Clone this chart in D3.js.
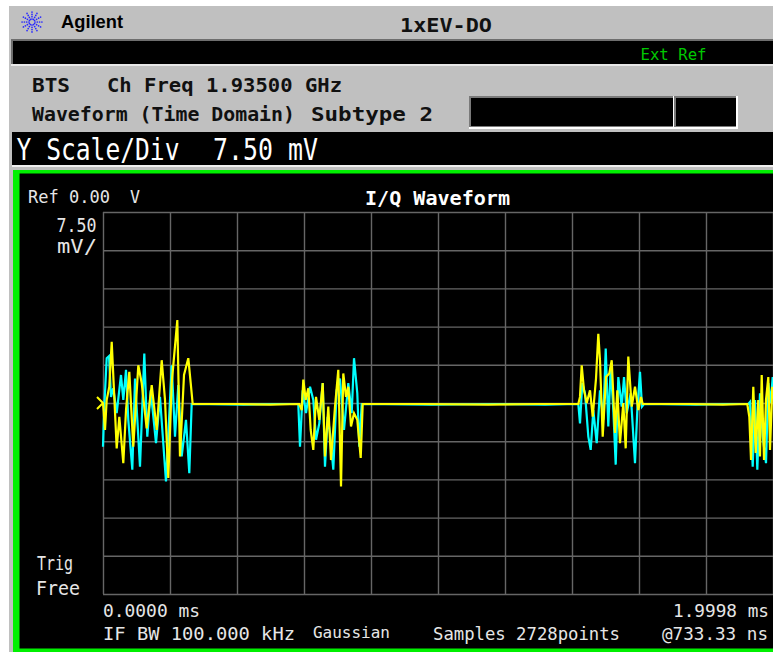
<!DOCTYPE html>
<html><head><meta charset="utf-8">
<script src="https://cdn.jsdelivr.net/npm/d3@7"></script>
<style>html,body{margin:0;padding:0;background:#fff;}svg{display:block;}</style>
</head><body>
<script>
// ---- data (time in ms, amplitude in mV) ----
const iTime = [0,0.006,0.011,0.0188,0.026,0.0328,0.0409,0.0487,0.0606,0.0687,0.0785,0.0904,0.1054,0.1155,0.1304,0.1454,0.1603,0.1752,0.1851,0.1949,0.2051,0.2218,0.2298,0.2418,0.2546,0.2618,0.2677,
  0.40,0.50,
  0.5859,0.5931,0.5979,0.6050,0.6128,0.6199,0.6277,0.6358,0.6456,0.6558,0.6626,0.6725,0.6805,0.6925,0.7023,0.7104,0.7172,0.7253,0.7322,0.7402,0.7492,0.7590,0.7692,0.7752,
  0.95,1.15,1.30,
  1.4187,1.4237,1.4288,1.4357,1.4438,1.4536,1.4617,1.4715,1.4784,1.4834,1.4915,1.5014,1.5112,1.5184,1.5282,1.5351,1.5431,1.5530,1.5601,1.5679,1.5781,1.5879,1.5978,1.6058,1.6109,
  1.75,1.85,
  1.9231,1.9291,1.9342,1.9410,1.9482,1.9559,1.9610,1.9661,1.9730,1.9789,1.9858,1.9909,1.9977];
const iValue = [0,-5.3,0.6,3.2,12.0,2.5,-8.9,-2.7,-11.8,-1.4,6.1,-8.6,7.4,3.9,-5.0,3.5,-5.3,8.4,0.6,-14.7,3.9,16.3,-10.5,5.5,8.8,3.9,-0.2,
  -0.2,-0.3,
  -0.2,-1.4,4.6,0.6,2.9,-5.3,-9.2,1.2,-3.3,3.9,-10.5,-0.7,-11.2,-0.7,6.5,-16.4,5.8,1.2,3.2,-4.6,-2.0,-3.3,-10.8,-0.2,
  -0.2,-0.3,-0.2,
  -0.2,1.2,7.4,2.5,0.0,2.5,-2.7,4.8,13.6,8.4,-6.6,5.1,5.8,8.4,-5.9,2.5,-7.9,0.0,-8.9,9.1,-0.7,3.2,-1.4,1.2,-0.2,
  -0.2,-0.3,
  -0.2,-2.7,-11.2,3.2,-9.8,0.6,-10.5,5.5,-11.2,0.6,5.1,-9.2,3.2];
const qTime = [0,0.003,0.011,0.0179,0.0239,0.0307,0.0409,0.0537,0.0606,0.0687,0.0755,0.0875,0.0955,0.1104,0.1233,0.1322,0.1424,0.1582,0.1701,0.1880,0.2051,0.2149,0.2248,0.2349,0.2477,0.2576,0.2647,
  0.42,0.52,
  0.5829,0.5880,0.5961,0.6059,0.6179,0.6277,0.6358,0.6456,0.6558,0.6626,0.6707,0.6776,0.6874,0.6975,0.7074,0.7193,0.7322,0.7423,0.7492,0.7590,0.7650,0.7722,
  0.98,1.18,1.32,
  1.4187,1.4237,1.4306,1.4387,1.4486,1.4557,1.4635,1.4736,1.4834,1.4933,1.5005,1.5082,1.5154,1.5232,1.5303,1.5381,1.5482,1.5551,1.5632,1.5751,1.5879,1.5948,1.6028,1.6088,1.6148,
  1.77,1.87,
  1.9261,1.9312,1.9392,1.9461,1.9530,1.9610,1.9691,1.9789,1.9858,1.9930,1.9989];
const qValue = [-8.6,-2.0,8.8,9.2,1.2,2.9,-2.0,5.5,0.6,6.5,-3.3,-13.1,4.8,-12.5,9.7,-6.6,2.5,-7.9,1.2,-15.4,7.4,-6.6,3.5,-10.5,-3.3,-13.8,-0.2,
  -0.3,-0.2,
  -0.2,-8.6,2.5,-2.0,3.2,0.6,-7.2,-4.0,3.9,-12.5,-2.7,-5.9,-13.1,2.5,4.8,-5.3,3.9,-2.0,8.8,1.9,-8.6,-0.2,
  -0.3,-0.2,-0.3,
  -0.2,-4.0,3.9,1.9,-6.6,-9.2,-1.4,-7.9,2.5,-3.3,10.7,-4.6,7.1,-1.4,-12.1,5.1,-0.7,5.1,-2.0,1.9,-11.8,-1.4,6.1,-0.7,-0.2,
  -0.3,-0.2,
  -0.2,0.2,-12.5,0.6,-13.1,1.9,-6.6,-11.8,3.9,0.0,5.1];
const xDomain = [0, 1.9998];          // ms
const yDivisions = 10, xDivisions = 10;
const yPerDiv = 7.5;                  // mV
const xStartLabel = "0.0000 ms", xEndLabel = "1.9998 ms";
const refLabel = "Ref 0.00", refUnit = "V";
const scaleLabel = ["7.50", "mV/"];

// ---- drawing ----
const W = 773, H = 652;
const svg = d3.select("body").append("svg").attr("width", W).attr("height", H);
const mono = "'DejaVu Sans Mono', 'Liberation Mono', monospace";

function txt(x, y, s, o) {
  o = o || {};
  const t = svg.append("text").attr("x", x).attr("y", y).text(s)
    .attr("font-family", o.family || mono)
    .attr("font-size", o.size || 18)
    .attr("font-weight", o.weight || "normal")
    .attr("fill", o.fill || "#000")
    .attr("text-anchor", o.anchor || "start");
  if (o.len) t.attr("textLength", o.len).attr("lengthAdjust", "spacingAndGlyphs");
  return t;
}

svg.append("rect").attr("width", W).attr("height", H).attr("fill", "#fff");
svg.append("rect").attr("x", 9).attr("y", 6).attr("width", W - 9).attr("height", H - 6).attr("fill", "#c0c0c0");

// logo
const lg = svg.append("g").attr("transform", "translate(32,22)");
for (let k = 0; k < 12; k++) {
  const a = k * Math.PI / 6;
  for (let r = 3; r <= 10; r += 2.3) {
    lg.append("circle").attr("cx", Math.cos(a) * r).attr("cy", Math.sin(a) * r).attr("r", 0.85).attr("fill", "#2a2aff");
  }
}
txt(61, 28, "Agilent", {family: "'Liberation Sans', Arial, sans-serif", size: 18, weight: "bold", len: 62});
txt(400, 32, "1xEV-DO", {size: 19, weight: "bold", len: 92, fill: "#111"});

// top black bar
svg.append("rect").attr("x", 11).attr("y", 39).attr("width", W - 11).attr("height", 27).attr("fill", "#e8e8e8");
svg.append("rect").attr("x", 11).attr("y", 39).attr("width", W - 11).attr("height", 25).attr("fill", "#6e6e6e");
svg.append("rect").attr("x", 13).attr("y", 41).attr("width", W - 13).attr("height", 23).attr("fill", "#000");
txt(640.5, 60, "Ext Ref", {size: 15, fill: "#00c800", len: 66});

// info lines
txt(32, 91.5, "BTS", {size: 19, weight: "bold", len: 38, fill: "#111"});
txt(107, 91.5, "Ch Freq 1.93500 GHz", {size: 19, weight: "bold", len: 235, fill: "#111"});
txt(32, 121, "Waveform (Time Domain)", {size: 19, weight: "bold", len: 263, fill: "#111"});
txt(311, 121, "Subtype 2", {size: 19, weight: "bold", len: 122, fill: "#111"});

function box(x, y, w, h) {
  svg.append("rect").attr("x", x).attr("y", y).attr("width", w).attr("height", h).attr("fill", "#fff");
  svg.append("rect").attr("x", x).attr("y", y).attr("width", w - 2).attr("height", h - 2).attr("fill", "#7a7a7a");
  svg.append("rect").attr("x", x + 2).attr("y", y + 2).attr("width", w - 4).attr("height", h - 5).attr("fill", "#000");
}
box(469, 96, 206, 33);
box(674, 96, 64, 33);

// Y scale bar
svg.append("rect").attr("x", 12).attr("y", 132).attr("width", W - 12).attr("height", 33).attr("fill", "#000");
txt(16.5, 160, "Y Scale/Div", {size: 30, fill: "#fff", len: 163});
txt(213, 160, "7.50 mV", {size: 30, fill: "#fff", len: 105});
svg.append("rect").attr("x", 12).attr("y", 165).attr("width", W - 12).attr("height", 2).attr("fill", "#f0f0f0");

// green frame
svg.append("rect").attr("x", 13).attr("y", 170).attr("width", W - 13).attr("height", 482).attr("fill", "#00f000");
svg.append("rect").attr("x", 19.5).attr("y", 173.5).attr("width", W - 19.5).attr("height", 475).attr("fill", "#000");

// plot
const L = 103, R = 773, T = 212, B = 594;
const x = d3.scaleLinear().domain(xDomain).range([L, R]);
const y = d3.scaleLinear().domain([-yPerDiv * yDivisions / 2, yPerDiv * yDivisions / 2]).range([B, T]);

const xTicks = d3.range(xDivisions + 1).map(i => xDomain[0] + i * (xDomain[1] - xDomain[0]) / xDivisions);
const yTicks = d3.range(yDivisions + 1).map(i => -yPerDiv * yDivisions / 2 + i * yPerDiv);

const gx = svg.append("g").attr("transform", `translate(0,${B})`)
  .call(d3.axisBottom(x).tickValues(xTicks).tickSize(-(B - T)).tickFormat(""));
const gy = svg.append("g").attr("transform", `translate(${L},0)`)
  .call(d3.axisLeft(y).tickValues(yTicks).tickSize(-(R - L)).tickFormat(""));
[gx, gy].forEach(g => {
  g.select(".domain").remove();
  g.selectAll(".tick line").attr("stroke", "#666").attr("stroke-width", 1.4);
});

const line = d3.line().x(d => x(d[0])).y(d => y(d[1]));
const qData = qTime.map((t, i) => [t, qValue[i]]);
const iData = iTime.map((t, i) => [t, iValue[i]]);
const clip = svg.append("clipPath").attr("id", "pc").append("rect")
  .attr("x", L - 2).attr("y", T).attr("width", R - L + 2).attr("height", B - T);
svg.append("path").datum(qData).attr("d", line).attr("fill", "none")
  .attr("stroke", "#00ffff").attr("stroke-width", 2.2).attr("clip-path", "url(#pc)");
svg.append("path").datum(iData).attr("d", line).attr("fill", "none")
  .attr("stroke", "#ffff00").attr("stroke-width", 2.2).attr("clip-path", "url(#pc)");

// reference marker
svg.append("path").attr("d", `M${L - 6},${y(0) - 6} L${L},${y(0)} L${L - 6},${y(0) + 6}`)
  .attr("fill", "none").attr("stroke", "#ffff00").attr("stroke-width", 2);

// plot texts
const tc = "#e6e6e6";
txt(28, 203, refLabel, {size: 17, fill: tc, len: 82});
txt(130, 203, refUnit, {size: 17, fill: tc, len: 10});
txt(96.5, 231.5, scaleLabel[0], {size: 19, fill: tc, len: 40, anchor: "end"});
txt(57, 252.5, scaleLabel[1], {size: 19, fill: tc, len: 40});
txt(365, 205, "I/Q Waveform", {size: 19, weight: "bold", fill: "#fff", len: 145});
txt(37, 570, "Trig", {size: 20, fill: tc, len: 36});
txt(36, 594.5, "Free", {size: 20, fill: tc, len: 44});
txt(103, 616.5, xStartLabel, {size: 18, fill: tc, len: 97});
txt(769, 616.5, xEndLabel, {size: 18, fill: tc, len: 96, anchor: "end"});
txt(103, 640, "IF BW  100.000 kHz", {size: 18, fill: tc, len: 192});
txt(313, 638, "Gaussian", {size: 15, fill: tc, len: 77});
txt(433, 640, "Samples 2728points", {size: 18, fill: tc, len: 187});
txt(768, 639.5, "@733.33 ns", {size: 18, fill: tc, len: 106, anchor: "end"});
</script>
</body></html>
